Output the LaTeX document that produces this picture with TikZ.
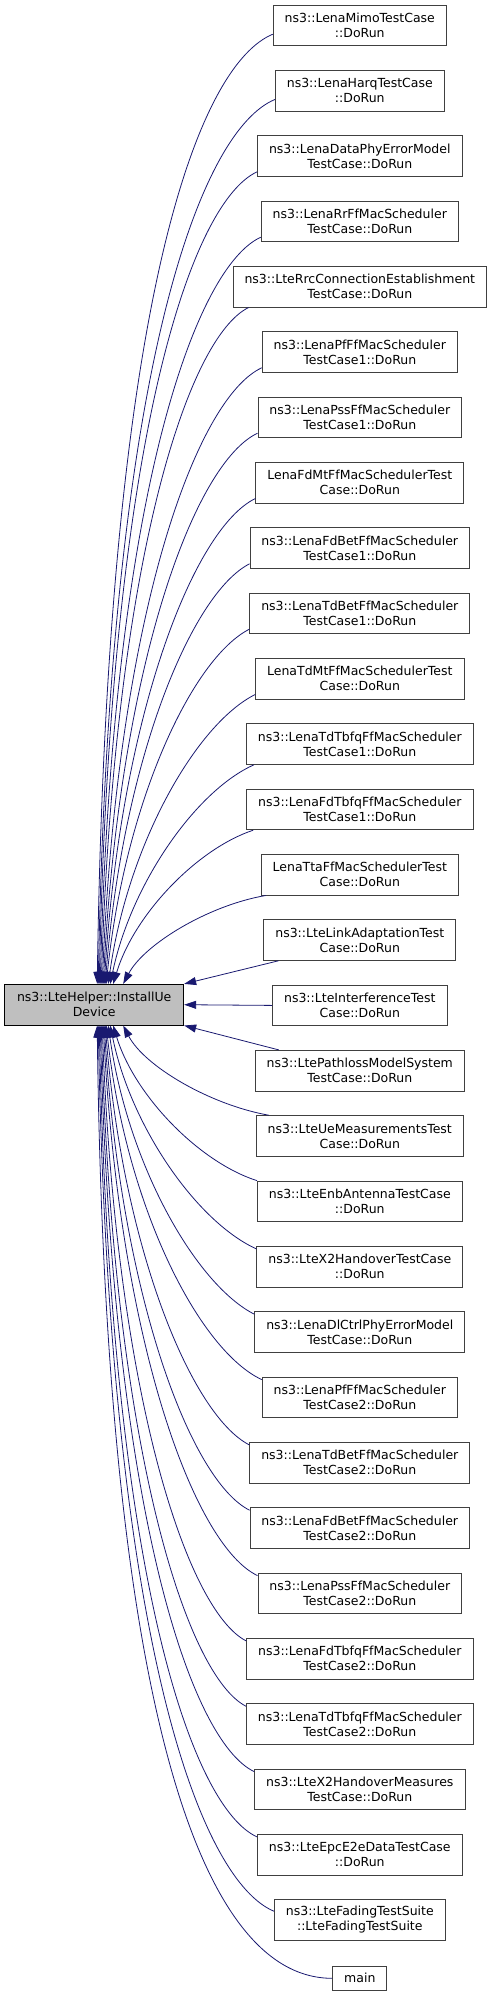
\documentclass[tikz,border=0pt]{standalone}
\usepackage{fontspec}
\setmainfont{DejaVu Sans}
\usepackage{xcolor}
\usetikzlibrary{arrows.meta}
\definecolor{edgeblue}{RGB}{25,25,112}
\tikzset{
  fnbox/.style={draw=black!75, line width=0.9pt, fill=white, align=center, inner xsep=11.5pt, inner ysep=0pt, minimum height=40.7pt, font=\fontsize{12.5}{15}\selectfont},
  rootfn/.style={fnbox, draw=black, fill=black!25, minimum width=179pt},
  calledge/.style={-{Triangle[length=12pt,width=8pt]}, edgeblue, line width=0.8pt},
}

\begin{document}
\begin{tikzpicture}[x=1pt,y=-1pt]
\useasboundingbox (0,0) rectangle (493,1997);
\node[rootfn] (inst) at (94.2,1004.7) {ns3::LteHelper::InstallUe\\Device};
\node[fnbox] (c1) at (359.8,25.4) {ns3::LenaMimoTestCase\\::DoRun};
\node[fnbox] (c2) at (359.8,90.7) {ns3::LenaHarqTestCase\\::DoRun};
\node[fnbox] (c3) at (359.8,156.0) {ns3::LenaDataPhyErrorModel\\TestCase::DoRun};
\node[fnbox] (c4) at (359.8,221.4) {ns3::LenaRrFfMacScheduler\\TestCase::DoRun};
\node[fnbox] (c5) at (359.8,286.7) {ns3::LteRrcConnectionEstablishment\\TestCase::DoRun};
\node[fnbox] (c6) at (359.8,352.0) {ns3::LenaPfFfMacScheduler\\TestCase1::DoRun};
\node[fnbox] (c7) at (359.8,417.4) {ns3::LenaPssFfMacScheduler\\TestCase1::DoRun};
\node[fnbox] (c8) at (359.8,482.7) {LenaFdMtFfMacSchedulerTest\\Case::DoRun};
\node[fnbox] (c9) at (359.8,548.0) {ns3::LenaFdBetFfMacScheduler\\TestCase1::DoRun};
\node[fnbox] (c10) at (359.8,613.4) {ns3::LenaTdBetFfMacScheduler\\TestCase1::DoRun};
\node[fnbox] (c11) at (359.8,678.7) {LenaTdMtFfMacSchedulerTest\\Case::DoRun};
\node[fnbox] (c12) at (359.8,744.0) {ns3::LenaTdTbfqFfMacScheduler\\TestCase1::DoRun};
\node[fnbox] (c13) at (359.8,809.4) {ns3::LenaFdTbfqFfMacScheduler\\TestCase1::DoRun};
\node[fnbox] (c14) at (359.8,874.7) {LenaTtaFfMacSchedulerTest\\Case::DoRun};
\node[fnbox] (c15) at (359.8,940.0) {ns3::LteLinkAdaptationTest\\Case::DoRun};
\node[fnbox] (c16) at (359.8,1005.4) {ns3::LteInterferenceTest\\Case::DoRun};
\node[fnbox] (c17) at (359.8,1070.7) {ns3::LtePathlossModelSystem\\TestCase::DoRun};
\node[fnbox] (c18) at (359.8,1136.0) {ns3::LteUeMeasurementsTest\\Case::DoRun};
\node[fnbox] (c19) at (359.8,1201.4) {ns3::LteEnbAntennaTestCase\\::DoRun};
\node[fnbox] (c20) at (359.8,1266.7) {ns3::LteX2HandoverTestCase\\::DoRun};
\node[fnbox] (c21) at (359.8,1332.0) {ns3::LenaDlCtrlPhyErrorModel\\TestCase::DoRun};
\node[fnbox] (c22) at (359.8,1397.4) {ns3::LenaPfFfMacScheduler\\TestCase2::DoRun};
\node[fnbox] (c23) at (359.8,1462.7) {ns3::LenaTdBetFfMacScheduler\\TestCase2::DoRun};
\node[fnbox] (c24) at (359.8,1528.0) {ns3::LenaFdBetFfMacScheduler\\TestCase2::DoRun};
\node[fnbox] (c25) at (359.8,1593.4) {ns3::LenaPssFfMacScheduler\\TestCase2::DoRun};
\node[fnbox] (c26) at (359.8,1658.7) {ns3::LenaFdTbfqFfMacScheduler\\TestCase2::DoRun};
\node[fnbox] (c27) at (359.8,1724.0) {ns3::LenaTdTbfqFfMacScheduler\\TestCase2::DoRun};
\node[fnbox] (c28) at (359.8,1789.4) {ns3::LteX2HandoverMeasures\\TestCase::DoRun};
\node[fnbox] (c29) at (359.8,1854.7) {ns3::LteEpcE2eDataTestCase\\::DoRun};
\node[fnbox] (c30) at (359.8,1920.0) {ns3::LteFadingTestSuite\\::LteFadingTestSuite};
\node[fnbox, minimum height=24.7pt] (m) at (359.8,1978.3) {main};

\draw[calledge] ([yshift=12pt]c1.south west) .. controls (201.7,63.7) and (107.7,281.3) .. ([xshift=3pt]inst.north);
\draw[calledge] ([yshift=12pt]c2.south west) .. controls (203.7,129) and (110.2,351.3) .. ([xshift=4pt]inst.north);
\draw[calledge] ([yshift=5pt]c3.south west) .. controls (193.3,201.4) and (111.2,425.3) .. ([xshift=5pt]inst.north);
\draw[calledge] ([yshift=5pt]c4.south west) .. controls (196.3,266.7) and (113.2,489.3) .. ([xshift=6pt]inst.north);
\draw[calledge] ([xshift=16pt]c5.south west) .. controls (188.7,337) and (115.2,555.3) .. ([xshift=7pt]inst.north);
\draw[calledge] ([yshift=5pt]c6.south west) .. controls (197.7,397.4) and (118.2,607.3) .. ([xshift=8pt]inst.north);
\draw[calledge] ([yshift=5pt]c7.south west) .. controls (195,462.7) and (120.2,661.3) .. ([xshift=9pt]inst.north);
\draw[calledge] ([yshift=5pt]c8.south west) .. controls (194.3,528) and (121.2,712.3) .. ([xshift=10pt]inst.north);
\draw[calledge] ([yshift=5pt]c9.south west) .. controls (191.7,593.4) and (123.2,758.3) .. ([xshift=11pt]inst.north);
\draw[calledge] ([yshift=5pt]c10.south west) .. controls (191.7,658.7) and (125.2,802.3) .. ([xshift=12pt]inst.north);
\draw[calledge] ([yshift=5pt]c11.south west) .. controls (196.3,724) and (128.2,843.3) .. ([xshift=14pt]inst.north);
\draw[calledge] ([xshift=8pt]c12.south west) .. controls (196.3,790.4) and (131.2,883.3) .. ([xshift=16pt]inst.north);
\draw[calledge] ([xshift=7pt]c13.south west) .. controls (197.3,848.7) and (134.2,914.3) .. ([xshift=19pt]inst.north);
\draw[calledge] ([xshift=5pt]c14.south west) .. controls (208.3,905.3) and (144.2,944.3) .. ([xshift=29pt]inst.north);
\draw[calledge] ([xshift=15pt]c15.south west) -- (inst.north east);
\draw[calledge] (c16.west) -- (inst.east);
\draw[calledge] ([xshift=24pt]c17.north west) -- (inst.south east);
\draw[calledge] ([xshift=13pt]c18.north west) .. controls (209.7,1104.7) and (144.2,1066) .. ([xshift=29pt]inst.south);
\draw[calledge] (c19.north west) .. controls (198.7,1162) and (134.2,1095) .. ([xshift=19pt]inst.south);
\draw[calledge] ([yshift=-3pt]c20.north west) .. controls (197.7,1222.3) and (131.2,1128) .. ([xshift=16pt]inst.south);
\draw[calledge] ([yshift=-3pt]c21.north west) .. controls (196.3,1284.7) and (128.2,1166) .. ([xshift=14pt]inst.south);
\draw[calledge] ([yshift=-3pt]c22.north west) .. controls (198.7,1350) and (126.2,1207) .. ([xshift=12pt]inst.south);
\draw[calledge] ([yshift=-3pt]c23.north west) .. controls (191.7,1415.3) and (123.2,1250) .. ([xshift=11pt]inst.south);
\draw[calledge] ([yshift=-3pt]c24.north west) .. controls (190.7,1480.7) and (121.2,1297) .. ([xshift=10pt]inst.south);
\draw[calledge] ([yshift=-3pt]c25.north west) .. controls (195.3,1546) and (120.2,1348) .. ([xshift=9pt]inst.south);
\draw[calledge] ([yshift=-3pt]c26.north west) .. controls (188.3,1611.3) and (116.2,1401) .. ([xshift=8pt]inst.south);
\draw[calledge] ([yshift=-3pt]c27.north west) .. controls (188.3,1676.7) and (114.2,1459) .. ([xshift=7pt]inst.south);
\draw[calledge] ([yshift=-3pt]c28.north west) .. controls (192,1742) and (113.2,1519) .. ([xshift=6pt]inst.south);
\draw[calledge] ([yshift=-3pt]c29.north west) .. controls (192.7,1807.3) and (111.2,1583) .. ([xshift=5pt]inst.south);
\draw[calledge] ([yshift=-12pt]c30.north west) .. controls (203.7,1881.7) and (110.2,1660) .. ([xshift=4pt]inst.south);
\draw[calledge] (m.west) .. controls (192,1978.3) and (105.2,1675) .. ([xshift=3pt]inst.south);
\end{tikzpicture}
\end{document}
